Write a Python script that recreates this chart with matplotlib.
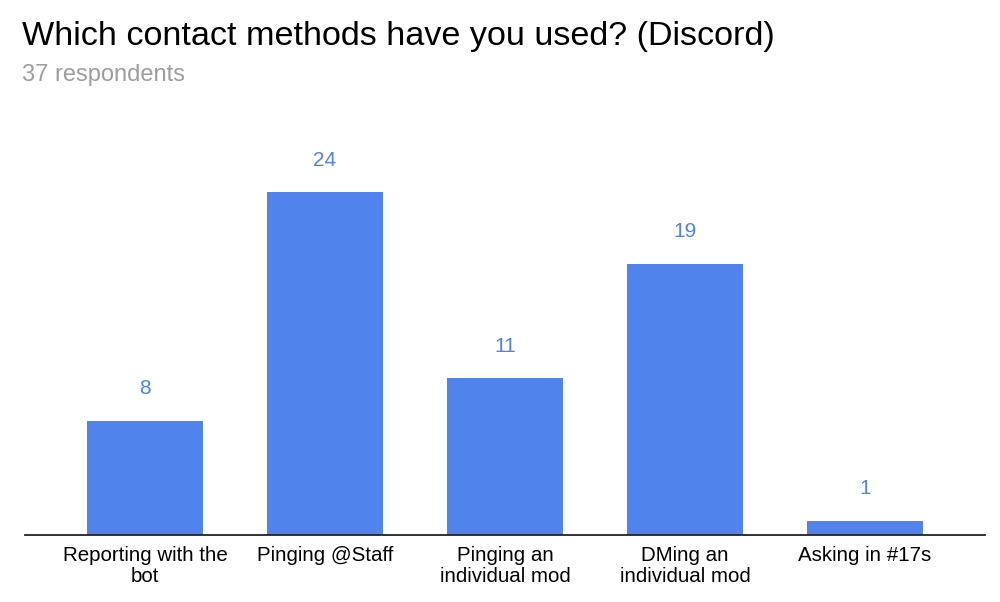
import matplotlib
matplotlib.use("Agg")
import matplotlib.pyplot as plt

categories = ["Reporting with the\nbot", "Pinging @Staff", "Pinging an\nindividual mod",
              "DMing an\nindividual mod", "Asking in #17s"]
counts = [8, 24, 11, 19, 1]

plt.rcParams['font.family'] = ['Liberation Sans', 'DejaVu Sans']

fig = plt.figure(figsize=(10, 6.02), dpi=100)
ax = fig.add_axes([0.025, 0.1113, 0.96, 0.6645])

x = range(len(categories))
ax.bar(x, counts, width=0.645, color="#5083EC", zorder=2)

for xi, v in zip(x, counts):
    ax.annotate(str(v), (xi, v), xytext=(0, 16), textcoords="offset points",
                ha="center", va="bottom", fontsize=15, color="#5083EC")

ax.set_xlim(-0.667, len(categories) - 1 + 0.667)
ax.set_ylim(0, 28)
ax.set_xticks(list(x))
ax.set_xticklabels(categories, fontsize=14.8, linespacing=1.15)
ax.tick_params(axis="x", length=0, pad=8)
ax.set_yticks([])
for s in ["top", "left", "right"]:
    ax.spines[s].set_visible(False)
ax.spines["bottom"].set_linewidth(1.3)
ax.spines["bottom"].set_color("#222222")

fig.text(0.022, 0.925, "Which contact methods have you used? (Discord)", fontsize=24.6,
         color="black", ha="left", va="baseline")
fig.text(0.022, 0.865, "37 respondents", fontsize=17, color="#9E9E9E",
         ha="left", va="baseline")

fig.savefig("out.png", dpi=100)
